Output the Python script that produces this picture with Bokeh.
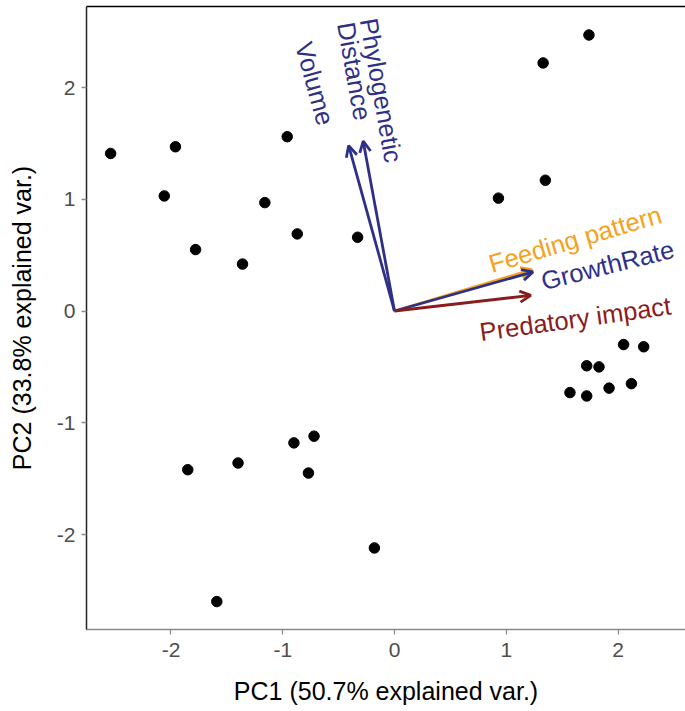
import math
from bokeh.plotting import figure
from bokeh.models import Range1d, LinearAxis, FixedTicker, Arrow, OpenHead, ColumnDataSource
from bokeh.core.properties import value
from bokeh.embed import file_html
from bokeh.resources import INLINE

# ---------------- data ----------------
pc1 = [-2.54, -1.96, -2.06, -1.78, -1.36, -1.16, -0.96, -0.87, -0.33, 0.93,
       1.33, 1.35, 1.74, 2.05, 2.23, 1.72, 1.83, 1.57, 1.72, 1.92, 2.12,
       -1.85, -1.40, -0.90, -0.72, -0.77, -0.18, -1.59]
pc2 = [1.41, 1.47, 1.03, 0.55, 0.42, 0.97, 1.56, 0.69, 0.66, 1.01,
       2.22, 1.17, 2.47, -0.30, -0.32, -0.49, -0.50, -0.73, -0.76, -0.69, -0.65,
       -1.42, -1.36, -1.18, -1.12, -1.45, -2.12, -2.60]

var_names = ["Feeding pattern", "GrowthRate", "Predatory impact", "Volume", "Phylogenetic\nDistance"]
var_x = [1.23, 1.24, 1.22, -0.41, -0.28]
var_y = [0.37, 0.35, 0.14, 1.48, 1.52]

x_ticks = [-2, -1, 0, 1, 2]
x_tick_labels = ["-2", "-1", "0", "1", "2"]
y_ticks = [-2, -1, 0, 1, 2]
y_tick_labels = ["-2", "-1", "0", "1", "2"]

x_title = "PC1 (50.7% explained var.)"
y_title = "PC2 (33.8% explained var.)"

# ---------------- styles / layout ----------------
var_colors = ["#F5A21F", "#2E3087", "#8B1C1C", "#2E3087", "#2E3087"]
# label baseline-start offset from arrow tip (screen px, y down) and angle (deg)
label_layout = [(-42.5, -5.2, 16.5), (8.4, 9.6, 14.0), (-51.0, 36.8, 8.0),
                (-45.2, -103.1, -74.5), (5.3, -122.6, -80.0)]
line_gap = 23.0
FONT = "Liberation Sans"

X0, X1 = -2.756, 2.604
Y0, Y1 = -2.85, 2.725
FW, FH = 599, 623
kx = FW / (X1 - X0)
ky = FH / (Y1 - Y0)

p = figure(frame_width=FW, frame_height=FH,
           x_range=Range1d(X0, X1), y_range=Range1d(Y0, Y1),
           output_backend="svg", toolbar_location=None,
           min_border_left=86, min_border_right=0, min_border_top=6, min_border_bottom=82,
           x_axis_label=x_title, y_axis_label=y_title)
p.xgrid.visible = False
p.ygrid.visible = False
p.outline_line_color = None
p.background_fill_color = "white"
p.border_fill_color = "white"

for ax, ticks, labels, line_col in ((p.xaxis[0], x_ticks, x_tick_labels, "#8a8a8a"),
                                    (p.yaxis[0], y_ticks, y_tick_labels, "#222222")):
    ax.ticker = FixedTicker(ticks=ticks)
    ax.major_label_overrides = {t: l for t, l in zip(ticks, labels)}
    ax.minor_tick_line_color = None
    ax.major_tick_in = 0
    ax.major_tick_out = 5
    ax.major_tick_line_color = "#8a8a8a"
    ax.major_tick_line_width = 1.3
    ax.axis_line_color = line_col
    ax.axis_line_width = 1.5
    ax.major_label_text_font = FONT
    ax.major_label_text_font_size = "21px"
    ax.major_label_text_color = "#4D4D4D"
    ax.axis_label_text_font = FONT
    ax.axis_label_text_font_size = "25px"
    ax.axis_label_text_font_style = "normal"
    ax.axis_label_text_color = "black"

p.xaxis[0].major_label_standoff = 8
p.xaxis[0].axis_label_standoff = 17
p.yaxis[0].major_label_standoff = 6
p.yaxis[0].axis_label_standoff = 18

top = LinearAxis(ticker=FixedTicker(ticks=[]), major_label_text_font_size="0px",
                 major_tick_out=0, major_tick_in=0, minor_tick_out=0, minor_tick_in=0,
                 major_label_standoff=0, axis_line_color="black", axis_line_width=1.5)
p.add_layout(top, "above")

# points
p.scatter(pc1, pc2, size=10.5, color="black")

# labels
tx, ty, tt, ta, tc = [], [], [], [], []
for name, x, y, col, (dx, dy, ang) in zip(var_names, var_x, var_y, var_colors, label_layout):
    th = math.radians(ang)
    down = (math.sin(th), math.cos(th))
    for i, line in enumerate(name.split("\n")):
        ox = dx + i * line_gap * down[0]
        oy = dy + i * line_gap * down[1]
        tx.append(x + ox / kx)
        ty.append(y - oy / ky)
        tt.append(line)
        ta.append(ang)
        tc.append(col)
src = ColumnDataSource(dict(x=tx, y=ty, text=tt, angle=ta, color=tc))
p.text(x="x", y="y", text="text", angle="angle", angle_units="deg", text_color="color",
       source=src, text_font=value(FONT), text_font_size=value("25.5px"),
       text_align="left", text_baseline="alphabetic")

# arrows
for x, y, col in zip(var_x, var_y, var_colors):
    p.add_layout(Arrow(end=OpenHead(size=11, line_width=2.8, line_color=col),
                       x_start=0, y_start=0, x_end=x, y_end=y,
                       line_color=col, line_width=2.8))

open("out.html", "w").write(file_html(p, INLINE))
